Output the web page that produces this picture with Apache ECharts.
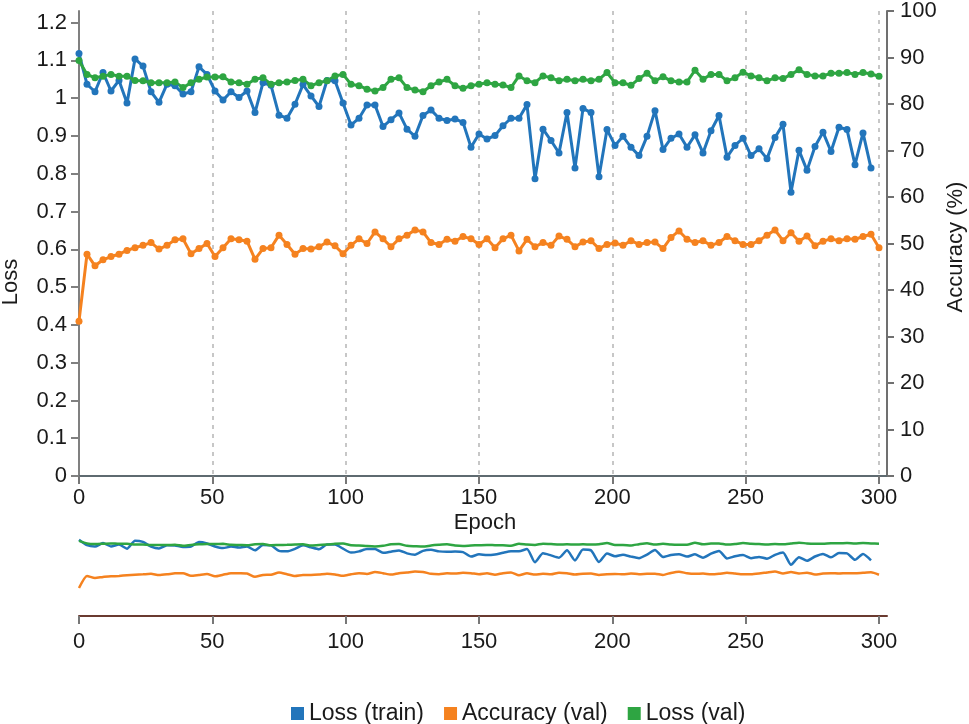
<!DOCTYPE html>
<html>
<head>
<meta charset="utf-8">
<script src="https://cdn.jsdelivr.net/npm/echarts@6/dist/echarts.min.js"></script>
<style>
  html, body { margin: 0; padding: 0; background: #fff; }
  #chart { width: 969px; height: 724px; }
</style>
</head>
<body>
<div id="chart"></div>
<script>
// one point every 3 epochs
const epochStep = 3;

const lossTrain = [
  1.118, 1.037, 1.017, 1.068, 1.019, 1.047, 0.987, 1.104, 1.085, 1.017,
  0.989, 1.037, 1.033, 1.011, 1.017, 1.083, 1.063, 1.019, 0.995, 1.017,
  1.002, 1.019, 0.962, 1.041, 1.034, 0.955, 0.947, 0.984, 1.036, 1.006,
  0.978, 1.047, 1.046, 0.987, 0.929, 0.947, 0.982, 0.982, 0.925, 0.943,
  0.961, 0.918, 0.899, 0.954, 0.969, 0.947, 0.941, 0.945, 0.936, 0.870,
  0.905, 0.892, 0.901, 0.927, 0.947, 0.947, 0.983, 0.787, 0.918, 0.888,
  0.855, 0.962, 0.815, 0.973, 0.962, 0.792, 0.917, 0.875, 0.899, 0.870,
  0.848, 0.899, 0.967, 0.864, 0.894, 0.905, 0.870, 0.903, 0.855, 0.914,
  0.954, 0.844, 0.875, 0.894, 0.848, 0.866, 0.840, 0.896, 0.931, 0.751,
  0.862, 0.809, 0.872, 0.910, 0.859, 0.923, 0.917, 0.824, 0.908, 0.815
];

const accVal = [
  33.3, 47.7, 45.2, 46.5, 47.2, 47.7, 48.5, 49.1, 49.6, 50.2,
  48.8, 49.6, 50.8, 51.0, 47.8, 48.9, 50.0, 47.2, 49.1, 51.0,
  50.8, 50.5, 46.6, 48.9, 49.1, 51.8, 49.8, 47.7, 48.9, 48.8,
  49.3, 50.3, 49.5, 47.8, 49.6, 51.0, 50.0, 52.5, 51.0, 49.3,
  51.0, 51.8, 52.9, 52.5, 50.2, 49.8, 50.9, 50.5, 51.5, 51.0,
  49.8, 51.0, 49.1, 51.0, 51.8, 48.4, 50.9, 49.3, 50.2, 49.6,
  51.6, 50.9, 49.3, 50.3, 50.6, 48.9, 49.8, 50.1, 49.6, 50.6,
  49.8, 50.2, 50.3, 48.9, 51.3, 52.7, 50.9, 50.2, 50.6, 49.6,
  50.2, 51.5, 50.6, 49.8, 49.8, 50.6, 51.8, 52.9, 50.6, 52.3,
  50.5, 51.6, 49.5, 50.5, 51.0, 50.6, 51.0, 50.9, 51.5, 52.0,
  49.1
];

const lossVal = [
  1.100, 1.063, 1.054, 1.058, 1.063, 1.058, 1.058, 1.047, 1.046, 1.041,
  1.041, 1.041, 1.043, 1.028, 1.041, 1.050, 1.056, 1.056, 1.057, 1.043,
  1.041, 1.037, 1.050, 1.054, 1.037, 1.041, 1.043, 1.047, 1.050, 1.033,
  1.041, 1.046, 1.059, 1.063, 1.037, 1.033, 1.024, 1.019, 1.028, 1.050,
  1.054, 1.028, 1.022, 1.017, 1.033, 1.043, 1.050, 1.033, 1.026, 1.033,
  1.037, 1.041, 1.037, 1.035, 1.028, 1.059, 1.046, 1.041, 1.059, 1.054,
  1.046, 1.050, 1.046, 1.050, 1.046, 1.050, 1.068, 1.041, 1.041, 1.034,
  1.052, 1.066, 1.046, 1.057, 1.046, 1.043, 1.043, 1.074, 1.050, 1.063,
  1.063, 1.046, 1.054, 1.069, 1.059, 1.054, 1.046, 1.054, 1.052, 1.063,
  1.075, 1.063, 1.059, 1.059, 1.066, 1.066, 1.068, 1.063, 1.068, 1.064,
  1.058
];

const seriesNames = ['Loss (train)', 'Accuracy (val)', 'Loss (val)'];
const colors = ['#2275bb', '#f5821f', '#2ea542'];

function pairs(arr) {
  return arr.map(function (v, i) { return [i * epochStep, v]; });
}

const font = "'Liberation Sans', Arial, sans-serif";
const txt = '#1a1a1a';
const fs = 22;
const lossMax = 1.2308;

function xAxisBase(gridIndex, showSplit, lineColor, labelMargin) {
  return {
    type: 'value',
    gridIndex: gridIndex,
    min: 0,
    max: 303,
    interval: 50,
    axisLine: { show: true, onZero: false, lineStyle: { color: lineColor, width: 2 } },
    axisTick: { show: true, length: 8, lineStyle: { color: '#777', width: 2 } },
    axisLabel: {
      show: true, margin: labelMargin, fontSize: fs, color: txt, fontFamily: font,
      showMaxLabel: false,
      formatter: function (v) { return v % 50 === 0 ? String(v) : ''; }
    },
    splitLine: showSplit ? { show: true, lineStyle: { type: [4, 5], color: '#b5b5b5', width: 1.5 } } : { show: false }
  };
}

const option = {
  animation: false,
  backgroundColor: '#fff',
  color: colors,
  grid: [
    { left: 79, right: 82, top: 8, height: 468 },
    { left: 79, right: 82, top: 532, height: 84 }
  ],
  xAxis: [
    xAxisBase(0, true, '#5e6a70', 11),
    xAxisBase(1, false, '#6a3a30', 15)
  ],
  yAxis: [
    {
      type: 'value', gridIndex: 0, position: 'left', min: 0, max: lossMax, interval: 0.1,
      axisLine: { show: true, lineStyle: { color: '#808080', width: 2 } },
      axisTick: { show: true, length: 8, lineStyle: { color: '#808080', width: 2 } },
      axisLabel: { margin: 12, fontSize: fs, color: txt, fontFamily: font, showMaxLabel: false },
      splitLine: { show: false }
    },
    {
      type: 'value', gridIndex: 0, position: 'right', min: 0, max: 100, interval: 10,
      axisLine: { show: true, lineStyle: { color: '#707070', width: 2 } },
      axisTick: { show: true, length: 7, lineStyle: { color: '#707070', width: 2 } },
      axisLabel: { margin: 13, fontSize: fs, color: txt, fontFamily: font },
      splitLine: { show: false }
    },
    { type: 'value', gridIndex: 1, min: 0, max: lossMax, show: false },
    { type: 'value', gridIndex: 1, min: 0, max: 100, show: false }
  ],
  legend: {
    data: seriesNames,
    icon: 'rect',
    itemWidth: 13,
    itemHeight: 13,
    itemGap: 20,
    left: 286,
    top: 697,
    textStyle: { fontSize: 23, color: txt, fontFamily: font }
  },
  graphic: [
    { type: 'text', x: 11, y: 282, rotation: Math.PI / 2,
      style: { text: 'Loss', fill: txt, font: fs + 'px ' + font, textAlign: 'center', textVerticalAlign: 'middle' } },
    { type: 'text', x: 956, y: 247, rotation: Math.PI / 2,
      style: { text: 'Accuracy (%)', fill: txt, font: fs + 'px ' + font, textAlign: 'center', textVerticalAlign: 'middle' } },
    { type: 'text', x: 485, y: 523,
      style: { text: 'Epoch', fill: txt, font: fs + 'px ' + font, textAlign: 'center', textVerticalAlign: 'middle' } }
  ],
  series: [
    {
      name: seriesNames[0], type: 'line', xAxisIndex: 0, yAxisIndex: 0,
      data: pairs(lossTrain), symbol: 'circle', symbolSize: 7, showSymbol: true,
      lineStyle: { width: 3, color: colors[0] }, itemStyle: { color: colors[0] }
    },
    {
      name: seriesNames[1], type: 'line', xAxisIndex: 0, yAxisIndex: 1,
      data: pairs(accVal), symbol: 'circle', symbolSize: 7, showSymbol: true,
      lineStyle: { width: 3, color: colors[1] }, itemStyle: { color: colors[1] }
    },
    {
      name: seriesNames[2], type: 'line', xAxisIndex: 0, yAxisIndex: 0,
      data: pairs(lossVal), symbol: 'circle', symbolSize: 7, showSymbol: true,
      lineStyle: { width: 3, color: colors[2] }, itemStyle: { color: colors[2] }
    },
    {
      name: seriesNames[0], type: 'line', xAxisIndex: 1, yAxisIndex: 2,
      data: pairs(lossTrain), showSymbol: false, smooth: 0.2,
      lineStyle: { width: 2.5, color: colors[0] }, itemStyle: { color: colors[0] }
    },
    {
      name: seriesNames[1], type: 'line', xAxisIndex: 1, yAxisIndex: 3,
      data: pairs(accVal), showSymbol: false, smooth: 0.2,
      lineStyle: { width: 2.5, color: colors[1] }, itemStyle: { color: colors[1] }
    },
    {
      name: seriesNames[2], type: 'line', xAxisIndex: 1, yAxisIndex: 2,
      data: pairs(lossVal), showSymbol: false, smooth: 0.2,
      lineStyle: { width: 2.5, color: colors[2] }, itemStyle: { color: colors[2] }
    }
  ]
};

let myChart = echarts.init(document.getElementById('chart'));
myChart.setOption(option);
</script>
</body>
</html>
